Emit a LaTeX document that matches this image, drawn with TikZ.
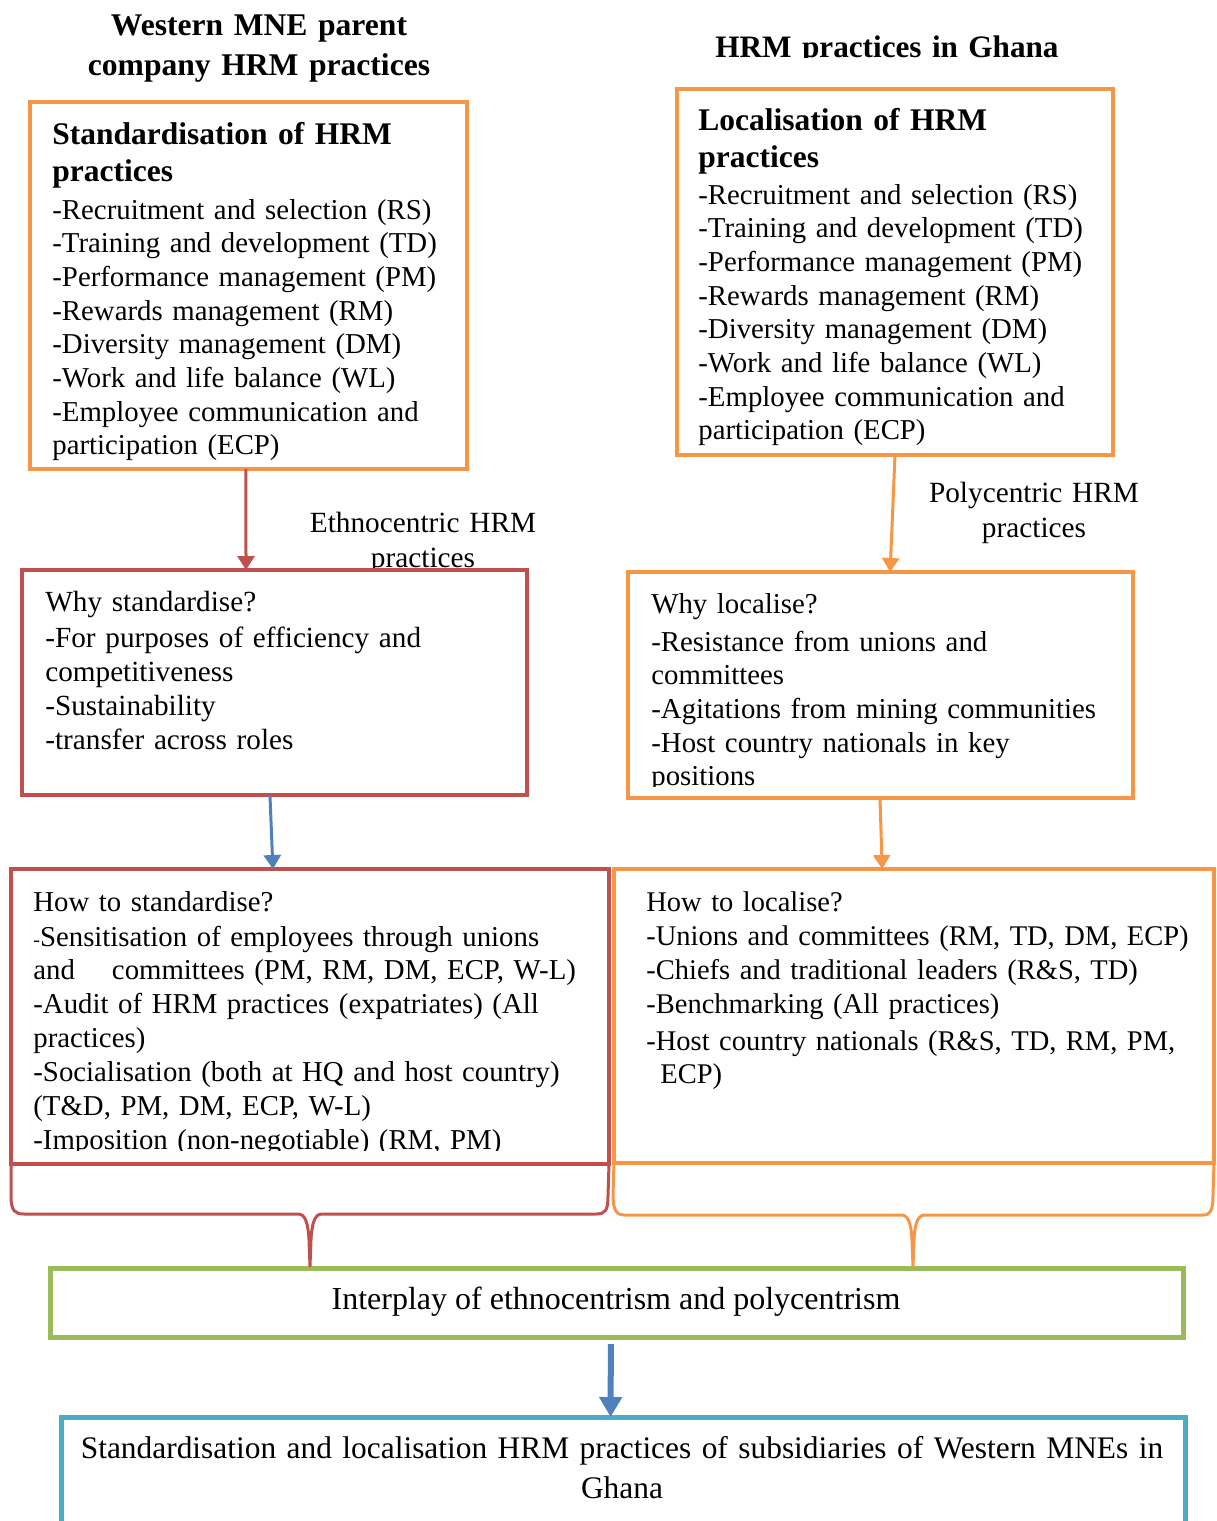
\documentclass[tikz,border=0pt]{standalone}
\usepackage{fontspec}
\setmainfont{Liberation Serif}
\usetikzlibrary{arrows.meta,calc}
\definecolor{hrmorange}{HTML}{F79646}
\definecolor{hrmred}{HTML}{C0504D}
\definecolor{hrmblue}{HTML}{4F81BD}
\definecolor{hrmgreen}{HTML}{9BBB59}
\definecolor{hrmcyan}{HTML}{4BACC6}
\tikzset{
  body/.style={inner sep=0pt, anchor=base west, align=left, text width=300pt,
    font=\fontsize{14.4}{16.85}\selectfont},
  boxtitle/.style={inner sep=0pt, anchor=base west, align=left, text width=230pt,
    font=\fontsize{15.75}{18.5}\selectfont\bfseries},
  colhead/.style={inner sep=0pt, anchor=base, align=center, text width=300pt,
    font=\fontsize{15.8}{20}\selectfont\bfseries},
  sidelabel/.style={inner sep=0pt, anchor=base, align=center, text width=160pt,
    font=\fontsize{14.65}{17.5}\selectfont},
  frame/.style={draw, line width=2pt, outer sep=0pt, inner sep=0pt},
  arr/.style={line width=1.5pt, -{Triangle[width=8.5pt,length=7pt]}},
  bigarr/.style={line width=3pt, -{Triangle[width=11pt,length=10pt]}},
  bracket/.style={line width=1.5pt, line join=round}
}
\begin{document}
\begin{tikzpicture}[x=0.5pt,y=-0.5pt]
\useasboundingbox (0,0) rectangle (1216,1521);
\clip (0,0) rectangle (1216,1521);

% column headings
\node[colhead] (hleft) at (259,35) {Western MNE parent\\company HRM practices};
\begin{scope}
  \clip (600,0) rectangle (1216,57.5);
  \node[colhead, font=\fontsize{15.6}{20}\selectfont\bfseries] (hright) at (887,57) {HRM practices in Ghana};
\end{scope}

% approach labels beside the arrows
\node[sidelabel] (ethno) at (423,532) {Ethnocentric HRM\\practices};
\node[sidelabel] (poly) at (1034,502) {Polycentric HRM\\practices};

% frames
\node[frame, draw=hrmorange, line width=1.7pt, minimum width=218.5pt, minimum height=183.5pt] (b1) at (248.5,285.5) {};
\node[frame, draw=hrmorange, line width=1.7pt, minimum width=218pt, minimum height=183pt] (b2) at (895,272) {};
\node[frame, draw=hrmred, fill=white, minimum width=252.5pt, minimum height=112.5pt] (b3) at (274.5,682.5) {};
\node[frame, draw=hrmorange, minimum width=252.5pt, minimum height=113pt] (b4) at (880.5,685) {};
\node[frame, draw=hrmred, minimum width=299pt, minimum height=147.5pt] (b5) at (310,1016.5) {};
\node[frame, draw=hrmorange, minimum width=300pt, minimum height=147pt] (b6) at (914,1016) {};
\node[frame, draw=hrmgreen, line width=2.5pt, minimum width=566.5pt, minimum height=34.5pt] (g) at (616.5,1302.5) {};
\node[frame, draw=hrmcyan, line width=2.5pt, minimum width=562pt, minimum height=71.5pt] (c) at (623,1488.5) {};

% standardisation practices
\node[boxtitle] (t1) at (52,144) {Standardisation of HRM\\practices};
\node[body] (l1) at (52,219) {-Recruitment and selection (RS)\\
-Training and development (TD)\\
-Performance management (PM)\\
-Rewards management (RM)\\
-Diversity management (DM)\\
-Work and life balance (WL)\\
-Employee communication and\\
participation (ECP)};

% localisation practices
\node[boxtitle] (t2) at (698,130) {Localisation of HRM\\practices};
\node[body] (l2) at (698,204) {-Recruitment and selection (RS)\\
-Training and development (TD)\\
-Performance management (PM)\\
-Rewards management (RM)\\
-Diversity management (DM)\\
-Work and life balance (WL)\\
-Employee communication and\\
participation (ECP)};

% reasons
\node[body, font=\fontsize{14.6}{16.85}\selectfont] (l3) at (45,611) {Why standardise?\\[1.6pt]
-For purposes of efficiency and\\
competitiveness\\
-Sustainability\\
-transfer across roles};
\begin{scope}
  \clip (628,572) rectangle (1133,786.5);
  \node[body] (l4) at (651,613) {Why localise?\\[2.2pt]
  -Resistance from unions and\\
  committees\\
  -Agitations from mining communities\\
  -Host country nationals in key\\
  positions};
\end{scope}

% means
\begin{scope}
  \clip (11,869) rectangle (609,1150);
  \node[body, font=\fontsize{14.4}{16.92}\selectfont] (l5) at (33,911) {How to standardise?\\[0.6pt]
  {\fontsize{10}{12}\selectfont -}Sensitisation of employees through unions\\
  and\hspace{18.5pt}committees (PM, RM, DM, ECP, W-L)\\
  -Audit of HRM practices (expatriates) (All\\
  practices)\\
  -Socialisation (both at HQ and host country)\\
  (T\&D, PM, DM, ECP, W-L)\\
  -Imposition (non-negotiable) (RM, PM)};
\end{scope}
\node[body, font=\fontsize{14.25}{16.85}\selectfont] (l6) at (646,911) {How to localise?\\[0.6pt]
-Unions and committees (RM, TD, DM, ECP)\\
-Chiefs and traditional leaders (R\&S, TD)\\
-Benchmarking (All practices)\\[1.6pt]
-Host country nationals (R\&S, TD, RM, PM,\\
\hspace*{7pt}ECP)};

% outcome texts
\node[inner sep=0pt, anchor=base, font=\fontsize{16}{17}\selectfont] (gt) at (616,1309) {Interplay of ethnocentrism and polycentrism};
\node[inner sep=0pt, anchor=base, align=center, text width=580pt, font=\fontsize{15.7}{20}\selectfont] (ct) at (622,1458) {Standardisation and localisation HRM practices of subsidiaries of Western MNEs in\\Ghana};

% arrows between frames
\draw[arr, hrmred] ($(b1.south west)!0.494!(b1.south east)$) -- ($(b3.north west)!0.4436!(b3.north east)$);
\draw[arr, hrmorange] ($(b2.south west)!0.5!(b2.south east)$) -- ($(b4.north west)!0.519!(b4.north east)$);
\draw[arr, hrmblue] ($(b3.south west)!0.491!(b3.south east)$) -- ($(b5.north west)!0.438!(b5.north east)$);
\draw[arr, hrmorange] ($(b4.south west)!0.499!(b4.south east)$) -- ($(b6.north west)!0.447!(b6.north east)$);
\draw[bigarr, hrmblue] ($(g.south west)!0.495!(g.south east)+(0,7)$) -- ($(c.north west)!0.489!(c.north east)$);

% brackets gathering both sides into the interplay box
\draw[bracket, hrmred] (b5.south west) -- (11,1196) .. controls (11,1211) and (15,1214) .. (24,1214)
  -- (298,1214) .. controls (305,1214) and (308,1222) .. (309,1240) -- (310,1266)
  -- (311,1240) .. controls (312,1222) and (315,1214) .. (322,1214)
  -- (596,1214) .. controls (605,1214) and (608,1211) .. (608,1196) -- (b5.south east);
\draw[bracket, hrmorange] (b6.south west) -- (613,1195) .. controls (613,1211) and (617,1215) .. (624,1215)
  -- (901,1215) .. controls (908,1215) and (911,1222) .. (912,1240) -- (913,1266)
  -- (914,1240) .. controls (915,1222) and (918,1215) .. (925,1215)
  -- (1203,1215) .. controls (1210,1215) and (1213,1211) .. (1213,1195) -- (b6.south east);
\end{tikzpicture}
\end{document}
